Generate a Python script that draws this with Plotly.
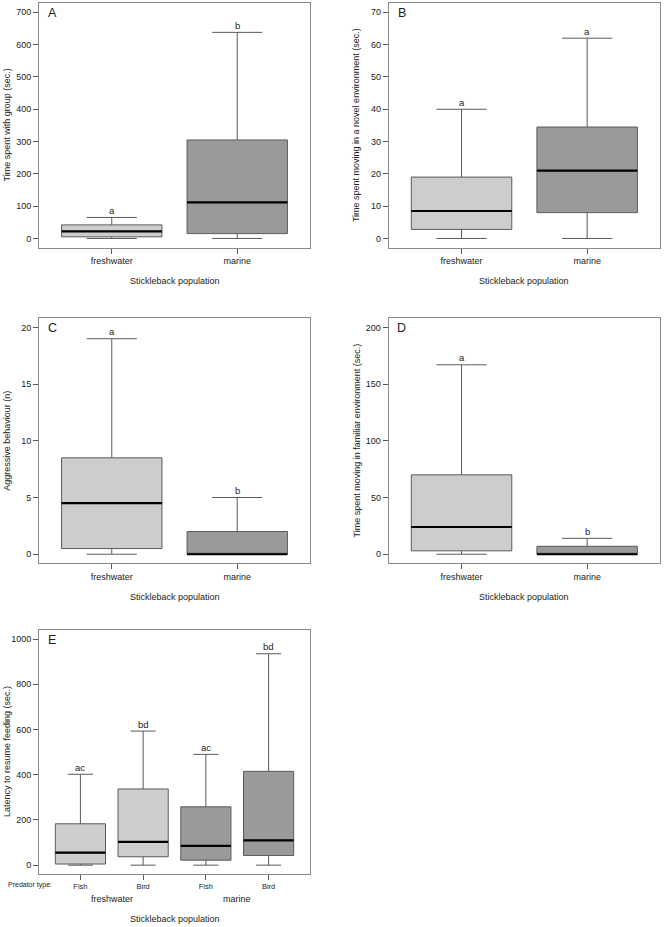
import plotly.graph_objects as go

# ---------------- data ----------------
pops = ["freshwater", "marine"]

A_min = [0, 0]; A_q1 = [5, 15]; A_med = [22, 112]; A_q3 = [42, 305]; A_max = [65, 638]
A_letters = ["a", "b"]

B_min = [0, 0]; B_q1 = [2.8, 8]; B_med = [8.5, 21]; B_q3 = [19, 34.5]; B_max = [40, 62]
B_letters = ["a", "a"]

C_min = [0, 0]; C_q1 = [0.5, 0]; C_med = [4.5, 0]; C_q3 = [8.5, 2]; C_max = [19, 5]
C_letters = ["a", "b"]

D_min = [0, 0]; D_q1 = [3, 0]; D_med = [24, 0]; D_q3 = [70, 7]; D_max = [167, 14]
D_letters = ["a", "b"]

E_pred = ["Fish", "Bird", "Fish", "Bird"]
E_pop = ["freshwater", "freshwater", "marine", "marine"]
E_min = [0, 0, 0, 0]; E_q1 = [5, 37, 22, 43]; E_med = [55, 103, 85, 110]
E_q3 = [183, 337, 258, 415]; E_max = [402, 593, 490, 935]
E_letters = ["ac", "bd", "ac", "bd"]

ytitles = {
    "A": "Time spent with group (sec.)",
    "B": "Time spent moving in a novel environment (sec.)",
    "C": "Aggressive behaviour (n)",
    "D": "Time spent moving in familiar environment (sec.)",
    "E": "Latency to resume feeding (sec.)",
}
xtitle = "Stickleback population"

# ---------------- style ----------------
W, H = 664, 927
FONT = "Liberation Sans, Arial, sans-serif"
TXT = "#222222"
LIGHT = "#cdcdcd"
DARK = "#9a9a9a"
EDGE = "#5a5a5a"
FRAME = "#8a8a8a"

def px_x(p):
    return p / W

def px_y(p):
    return 1 - p / H

panels = {
    # name: (left, right, top, bottom) in pixels, y max, dtick
    "A": (39, 310, 3.3, 247.5, 700, 100),
    "B": (388.7, 660, 3.3, 247.5, 70, 10),
    "C": (39, 310, 318.3, 563.3, 20, 5),
    "D": (388.7, 660, 318.3, 563.3, 200, 50),
    "E": (39, 310, 630, 874.2, 1000, 200),
}
axis_ids = {"A": "", "B": "2", "C": "3", "D": "4", "E": "5"}

fig = go.Figure()
annotations = []

def add_boxes(name, labels, mins, q1s, meds, q3s, maxs, letters, colors):
    ax = axis_ids[name]
    xref, yref = "x" + ax, "y" + ax
    positions = list(range(1, len(labels) + 1))
    for p, lo, a, m, b, hi, let, col in zip(positions, mins, q1s, meds, q3s, maxs, letters, colors):
        fig.add_trace(go.Box(
            x=[p], q1=[a], median=[m], q3=[b], lowerfence=[lo], upperfence=[hi],
            width=0.8, whiskerwidth=0.5, fillcolor=col,
            line=dict(color=EDGE, width=1), boxpoints=False,
            xaxis=xref, yaxis=yref, showlegend=False, hoverinfo="skip",
        ))
        fig.add_trace(go.Scatter(
            x=[p - 0.4, p + 0.4], y=[m, m], mode="lines",
            line=dict(color="#000000", width=2.2),
            xaxis=xref, yaxis=yref, showlegend=False, hoverinfo="skip",
        ))
        annotations.append(dict(
            x=p, y=hi, xref=xref, yref=yref, text=let, showarrow=False,
            yshift=7, font=dict(size=9.5, color=TXT, family=FONT),
        ))
    return positions

pair_cols = [LIGHT, DARK]
add_boxes("A", pops, A_min, A_q1, A_med, A_q3, A_max, A_letters, pair_cols)
add_boxes("B", pops, B_min, B_q1, B_med, B_q3, B_max, B_letters, pair_cols)
add_boxes("C", pops, C_min, C_q1, C_med, C_q3, C_max, C_letters, pair_cols)
add_boxes("D", pops, D_min, D_q1, D_med, D_q3, D_max, D_letters, pair_cols)
E_cols = [LIGHT if p == "freshwater" else DARK for p in E_pop]
E_pos = add_boxes("E", E_pred, E_min, E_q1, E_med, E_q3, E_max, E_letters, E_cols)

layout = dict(
    width=W, height=H, margin=dict(l=0, r=0, t=0, b=0),
    paper_bgcolor="white", plot_bgcolor="white",
    font=dict(family=FONT, size=9, color=TXT),
    showlegend=False,
)

for name, (l, r, t, b, ymax, dt) in panels.items():
    ax = axis_ids[name]
    n = 4 if name == "E" else 2
    pad_x = 0.04 * n
    labels = E_pred if name == "E" else pops
    layout["xaxis" + ax] = dict(
        domain=[px_x(l), px_x(r)], anchor="y" + ax,
        range=[0.5 - pad_x, n + 0.5 + pad_x],
        tickmode="array", tickvals=list(range(1, n + 1)), ticktext=labels,
        ticks="outside", ticklen=5, tickcolor=EDGE, tickwidth=1,
        showline=True, mirror=True, linecolor=FRAME, linewidth=1,
        showgrid=False, zeroline=False,
        tickfont=dict(size=7.5 if name == "E" else 9, color=TXT, family=FONT),
    )
    layout["yaxis" + ax] = dict(
        domain=[px_y(b), px_y(t)], anchor="x" + ax,
        range=[-0.04 * ymax, ymax * 1.04],
        tick0=0, dtick=dt,
        ticks="outside", ticklen=5, tickcolor=EDGE, tickwidth=1,
        showline=True, mirror=True, linecolor=FRAME, linewidth=1,
        showgrid=False, zeroline=False,
        tickfont=dict(size=9, color=TXT, family=FONT),
    )
    # panel letter
    annotations.append(dict(
        x=px_x(l + 13), y=px_y(t + 10), text=name, showarrow=False,
        xref="paper", yref="paper", xanchor="center", yanchor="middle",
        font=dict(size=12.5, color=TXT, family=FONT),
    ))
    # y title
    annotations.append(dict(
        x=px_x(l - 32), y=px_y((t + b) / 2), xref="paper", yref="paper",
        xanchor="center", yanchor="middle",
        text=ytitles[name], textangle=-90, showarrow=False,
        font=dict(size=9, color=TXT, family=FONT),
    ))
    # x title
    xt_y = b + 33.5 if name != "E" else b + 44.5
    annotations.append(dict(
        x=px_x((l + r) / 2), y=px_y(xt_y), xref="paper", yref="paper",
        xanchor="center", yanchor="middle",
        text=xtitle, showarrow=False,
        font=dict(size=9, color=TXT, family=FONT),
    ))

# E: population labels under predator ticks, and "Predator type:" label
for pop in ["freshwater", "marine"]:
    idx = [p for p, g in zip(E_pos, E_pop) if g == pop]
    annotations.append(dict(
        x=sum(idx) / len(idx), y=px_y(899), xref="x5", yref="paper",
        xanchor="center", yanchor="middle",
        text=pop, showarrow=False, font=dict(size=9, color=TXT, family=FONT),
    ))
annotations.append(dict(
    x=px_x(6), y=px_y(884.5), xref="paper", yref="paper", xanchor="left",
    yanchor="middle",
    text="Predator type:", showarrow=False, font=dict(size=7, color=TXT, family=FONT),
))

layout["annotations"] = annotations
fig.update_layout(**layout)
fig.write_html(
    "out.html",
    config={"displayModeBar": False, "staticPlot": True},
    post_script="document.body.style.margin='0';document.body.style.padding='0';",
)
